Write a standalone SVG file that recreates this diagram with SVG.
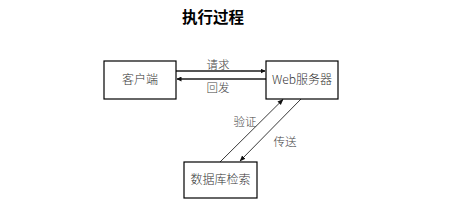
<svg xmlns="http://www.w3.org/2000/svg" width="470" height="205" viewBox="0 0 470 205">
<style>
.box{fill:#fff;stroke:#000;stroke-width:1.2}
.t{font-family:"Noto Sans CJK SC","Liberation Sans",sans-serif;font-size:12px;font-weight:300;fill:#333;text-anchor:middle}
.lbl{font-family:"Noto Sans CJK SC","Liberation Sans",sans-serif;font-size:11.5px;font-weight:300;fill:#444;text-anchor:middle}
.h{stroke:#555;stroke-width:2;fill:none}
.d{stroke:#222;stroke-width:0.9;fill:none}
</style>
<defs>
<marker id="ah" viewBox="0 0 10 10" refX="9" refY="5" markerWidth="5" markerHeight="5" markerUnits="userSpaceOnUse" orient="auto"><path d="M0,0L10,5L0,10z" fill="#111"/></marker>
<marker id="ah2" viewBox="0 0 10 10" refX="9" refY="5" markerWidth="6" markerHeight="6" markerUnits="userSpaceOnUse" orient="auto"><path d="M0,1L10,5L0,9z" fill="#111"/></marker>
</defs>
<text x="213" y="23" font-family="'Noto Sans CJK SC',sans-serif" font-size="15.5" font-weight="bold" text-anchor="middle" fill="#000">执行过程</text>
<g id="connectors">
<line class="h" x1="176" y1="71" x2="265" y2="71" marker-end="url(#ah)"/>
<line class="h" x1="266" y1="79" x2="177" y2="79" marker-end="url(#ah)"/>
<line class="d" x1="220" y1="162" x2="283" y2="99.5" marker-end="url(#ah2)"/>
<line class="d" x1="301" y1="99" x2="240" y2="161" marker-end="url(#ah2)"/>
<text class="lbl" x="218" y="69">请求</text>
<text class="lbl" x="218" y="92">回发</text>
<text class="lbl" x="245" y="126">验证</text>
<text class="lbl" x="285" y="146">传送</text>
</g>
<g id="client"><rect class="box" x="104" y="61" width="72" height="38"/><text class="t" x="140" y="84">客户端</text></g>
<g id="web"><rect class="box" x="266" y="61" width="72" height="38"/><text class="t" x="302" y="84" font-size="11.5">Web服务器</text></g>
<g id="db"><rect class="box" x="184" y="162" width="73" height="36"/><text class="t" x="220.5" y="184">数据库检索</text></g>
</svg>
